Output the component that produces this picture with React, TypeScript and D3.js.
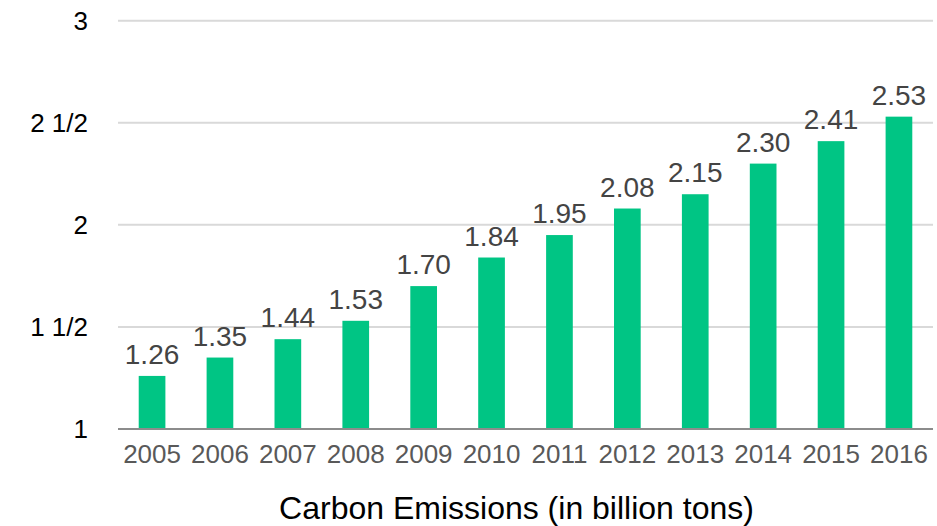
import React from "react";
import * as d3 from "d3";

const years = ["2005", "2006", "2007", "2008", "2009", "2010", "2011", "2012", "2013", "2014", "2015", "2016"];
const emissions = [1.26, 1.35, 1.44, 1.53, 1.7, 1.84, 1.95, 2.08, 2.15, 2.3, 2.41, 2.53];
const yTicks = [1, 1.5, 2, 2.5, 3];
const yTickLabels = ["1", "1 1/2", "2", "2 1/2", "3"];
const title = "Carbon Emissions (in billion tons)";

const W = 937;
const H = 526;
const FONT = "Arial, 'Liberation Sans', Helvetica, sans-serif";

export default function App() {
  const x = d3
    .scaleBand<string>()
    .domain(years)
    .range([118, 933])
    .paddingInner(0.607)
    .paddingOuter(0.305);
  const y = d3.scaleLinear().domain([1, 3]).range([429, 20.7]);

  return (
    <svg
      width={W}
      height={H}
      style={{ position: "absolute", left: 0, top: 0, background: "#fff" }}
      fontFamily={FONT}
    >
      {/* gridlines */}
      {yTicks.slice(1).map((t) => (
        <line key={t} x1={118} x2={933} y1={y(t)} y2={y(t)} stroke="#d9d9d9" strokeWidth={2} />
      ))}
      {/* y tick labels */}
      {yTicks.map((t, i) => (
        <text
          key={t}
          x={88}
          y={y(t)}
          textAnchor="end"
          dominantBaseline="central"
          fontSize={26}
          fill="#000"
        >
          {yTickLabels[i]}
        </text>
      ))}
      {/* bars and value labels */}
      {years.map((yr, i) => {
        const v = emissions[i];
        const bx = x(yr) as number;
        return (
          <g key={yr}>
            <rect x={bx} y={y(v)} width={x.bandwidth()} height={y(1) - y(v)} fill="#00c584" />
            <text
              x={bx + x.bandwidth() / 2}
              y={y(v) - 12}
              textAnchor="middle"
              fontSize={28}
              fill="#444"
            >
              {v.toFixed(2)}
            </text>
            <text x={bx + x.bandwidth() / 2} y={463} textAnchor="middle" fontSize={26} fill="#595959">
              {yr}
            </text>
          </g>
        );
      })}
      {/* baseline axis */}
      <line x1={118} x2={933} y1={y(1)} y2={y(1)} stroke="#8c8c8c" strokeWidth={2} />
      {/* axis title */}
      <text x={(280 + 753) / 2} y={519} textAnchor="middle" fontSize={32} fill="#000">
        {title}
      </text>
    </svg>
  );
}
